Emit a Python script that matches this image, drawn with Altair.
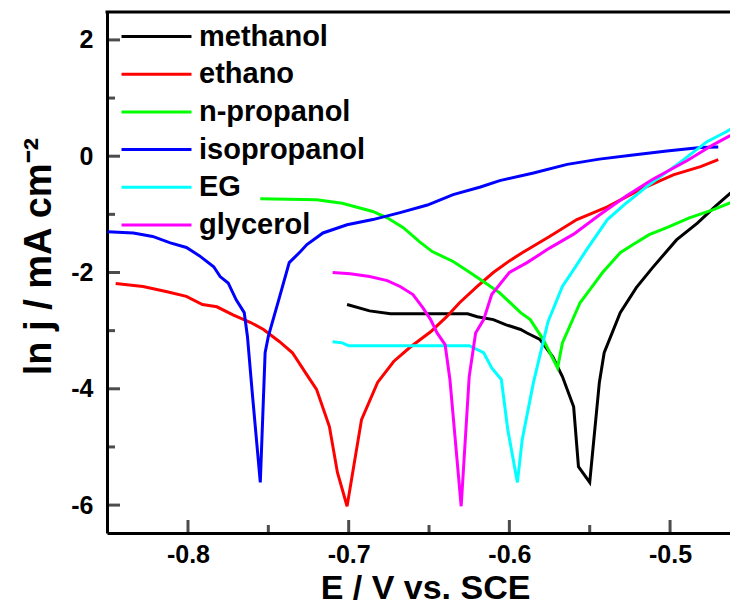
import altair as alt
import pandas as pd

# ---- data ----
series_names = ["methanol", "ethano", "n-propanol", "isopropanol", "EG", "glycerol"]
series_colors = ["#000000", "#ff0000", "#00ff00", "#0000ff", "#00ffff", "#ff00ff"]

methanol_E = [-0.701, -0.687, -0.674, -0.656, -0.626, -0.620, -0.610, -0.602, -0.593, -0.589,
              -0.581, -0.573, -0.567, -0.560, -0.557, -0.550, -0.544, -0.541, -0.531, -0.521,
              -0.511, -0.496, -0.483, -0.471, -0.458]
methanol_lnj = [-2.55, -2.66, -2.71, -2.71, -2.71, -2.76, -2.81, -2.90, -2.98, -3.04,
                -3.15, -3.45, -3.79, -4.31, -5.34, -5.61, -3.89, -3.38, -2.69, -2.26,
                -1.92, -1.44, -1.15, -0.84, -0.53]

ethano_E = [-0.845, -0.828, -0.813, -0.801, -0.791, -0.782, -0.772, -0.761, -0.753, -0.743,
            -0.735, -0.726, -0.720, -0.712, -0.707, -0.701, -0.692, -0.682, -0.672, -0.662,
            -0.649, -0.639, -0.631, -0.620, -0.610, -0.600, -0.592, -0.575, -0.558, -0.539,
            -0.519, -0.498, -0.481, -0.470]
ethano_lnj = [-2.19, -2.24, -2.33, -2.41, -2.55, -2.59, -2.73, -2.86, -2.98, -3.19,
              -3.38, -3.76, -4.01, -4.65, -5.44, -6.02, -4.53, -3.89, -3.53, -3.29,
              -3.02, -2.76, -2.52, -2.24, -2.00, -1.80, -1.66, -1.38, -1.09, -0.87,
              -0.58, -0.32, -0.18, -0.06]

npropanol_E = [-0.755, -0.720, -0.704, -0.685, -0.676, -0.666, -0.656, -0.648, -0.635, -0.625,
               -0.616, -0.606, -0.593, -0.587, -0.579, -0.570, -0.567, -0.556, -0.550, -0.542,
               -0.531, -0.523, -0.513, -0.502, -0.488, -0.473, -0.458]
npropanol_lnj = [-0.73, -0.75, -0.81, -0.95, -1.06, -1.23, -1.47, -1.64, -1.81, -1.99,
                 -2.16, -2.35, -2.69, -2.81, -3.15, -3.64, -3.21, -2.52, -2.30, -2.00,
                 -1.66, -1.52, -1.35, -1.23, -1.06, -0.92, -0.75]

isopropanol_E = [-0.850, -0.834, -0.822, -0.811, -0.801, -0.793, -0.784, -0.780, -0.775, -0.770,
                 -0.765, -0.763, -0.760, -0.755, -0.752, -0.750, -0.743, -0.737, -0.730, -0.726,
                 -0.716, -0.701, -0.685, -0.668, -0.651, -0.635, -0.618, -0.606, -0.585, -0.564,
                 -0.544, -0.523, -0.502, -0.481, -0.470]
isopropanol_lnj = [-1.30, -1.32, -1.38, -1.49, -1.57, -1.71, -1.90, -2.07, -2.18, -2.47,
                   -2.69, -3.10, -4.07, -5.61, -3.38, -3.10, -2.42, -1.83, -1.64, -1.52,
                   -1.32, -1.18, -1.09, -0.97, -0.84, -0.66, -0.53, -0.42, -0.29, -0.14,
                   -0.05, 0.02, 0.09, 0.15, 0.16]

EG_E = [-0.710, -0.704, -0.700, -0.625, -0.616, -0.611, -0.605, -0.601, -0.595, -0.592,
        -0.585, -0.576, -0.567, -0.560, -0.552, -0.539, -0.527, -0.513, -0.494, -0.477,
        -0.465, -0.458]
EG_lnj = [-3.19, -3.21, -3.26, -3.26, -3.38, -3.64, -3.84, -4.70, -5.61, -4.87,
          -3.89, -2.85, -2.24, -1.95, -1.61, -1.09, -0.80, -0.49, -0.11, 0.25,
          0.42, 0.54]

glycerol_E = [-0.710, -0.699, -0.687, -0.676, -0.668, -0.660, -0.654, -0.649, -0.645, -0.640,
              -0.637, -0.630, -0.625, -0.621, -0.616, -0.611, -0.600, -0.589, -0.575, -0.560,
              -0.544, -0.527, -0.511, -0.489, -0.473, -0.458]
glycerol_lnj = [-2.00, -2.02, -2.07, -2.14, -2.24, -2.38, -2.60, -2.81, -3.04, -3.24,
                -3.84, -6.02, -3.79, -3.04, -2.81, -2.38, -2.00, -1.83, -1.58, -1.34,
                -1.01, -0.68, -0.40, -0.07, 0.20, 0.42]

x_major = [-0.8, -0.7, -0.6, -0.5]
x_minor = [-0.75, -0.65, -0.55]
y_major = [-6, -4, -2, 0, 2]
y_minor = [-5, -3, -1, 1]

x_domain = [-0.8504, -0.4627]
y_domain = [-6.48, 2.48]

# ---- build table ----
all_E = [methanol_E, ethano_E, npropanol_E, isopropanol_E, EG_E, glycerol_E]
all_lnj = [methanol_lnj, ethano_lnj, npropanol_lnj, isopropanol_lnj, EG_lnj, glycerol_lnj]
rows = []
for name, xs, ys in zip(series_names, all_E, all_lnj):
    for i, (xv, yv) in enumerate(zip(xs, ys)):
        rows.append({"series": name, "E": xv, "lnj": yv, "i": i})
df = pd.DataFrame(rows)

FONT = "Liberation Sans"
W, H = 623, 521

xscale = alt.Scale(domain=x_domain, nice=False, zero=False)
yscale = alt.Scale(domain=y_domain, nice=False, zero=False)

x_axis = alt.Axis(
    values=x_major,
    labelExpr="datum.value < 0 ? '-' + format(-datum.value, '.1f') : format(datum.value, '.1f')",
    ticks=False, tickSize=0, domain=True, domainColor="black", domainWidth=3, grid=False,
    labelFont=FONT, labelFontSize=25, labelFontWeight="bold", labelColor="black",
    labelPadding=9, labelFlush=False, labelOverlap=False,
    title="E / V vs. SCE", titleFont=FONT, titleFontSize=34, titleFontWeight="bold",
    titleColor="black", titleX=318, titleY=65, titleBaseline="alphabetic", titleAlign="center",
)
y_axis = alt.Axis(
    values=y_major,
    labelExpr="datum.value < 0 ? '-' + format(-datum.value, 'd') : format(datum.value, 'd')",
    ticks=False, tickSize=0, domain=True, domainColor="black", domainWidth=3, grid=False,
    labelFont=FONT, labelFontSize=25, labelFontWeight="bold", labelColor="black",
    labelPadding=14, labelFlush=False, labelOverlap=False,
    title="ln j / mA cm⁻²", titleFont=FONT, titleFontSize=38, titleFontWeight="bold",
    titleColor="black", titleAngle=270, titleX=-57, titleY=244,
    titleBaseline="alphabetic", titleAlign="center",
)

lines = alt.Chart(df).mark_line(strokeWidth=3, clip=True).encode(
    x=alt.X("E:Q", scale=xscale, axis=x_axis),
    y=alt.Y("lnj:Q", scale=yscale, axis=y_axis),
    color=alt.Color(
        "series:N",
        scale=alt.Scale(domain=series_names, range=series_colors),
        sort=series_names,
        legend=alt.Legend(
            title=None, orient="none", legendX=35, legendY=10, padding=0,
            symbolType="M-3,0L3,0", symbolSize=544, symbolStrokeWidth=3,
            labelFont=FONT, labelFontSize=29, labelFontWeight="bold", labelColor="black",
            labelOffset=28, rowPadding=7.7, labelBaseline="middle", labelLimit=0,
        ),
    ),
    order="i:Q",
)

xt_major = alt.Chart(pd.DataFrame({"E": x_major})).mark_tick(
    orient="vertical", size=26, thickness=3, color="black", clip=True
).encode(x=alt.X("E:Q", scale=xscale, axis=x_axis), y=alt.value(H))
xt_minor = alt.Chart(pd.DataFrame({"E": x_minor})).mark_tick(
    orient="vertical", size=16, thickness=3, color="black", clip=True
).encode(x=alt.X("E:Q", scale=xscale, axis=x_axis), y=alt.value(H))
yt_major = alt.Chart(pd.DataFrame({"lnj": y_major})).mark_tick(
    orient="horizontal", size=26, thickness=3, color="black", clip=True
).encode(y=alt.Y("lnj:Q", scale=yscale, axis=y_axis), x=alt.value(0))
yt_minor = alt.Chart(pd.DataFrame({"lnj": y_minor})).mark_tick(
    orient="horizontal", size=16, thickness=3, color="black", clip=True
).encode(y=alt.Y("lnj:Q", scale=yscale, axis=y_axis), x=alt.value(0))

# top frame line (the reference shows no right-hand border inside the picture)
top_frame = alt.Chart(pd.DataFrame({"k": [0]})).mark_rule(
    color="black", strokeWidth=3
).encode(x=alt.value(-1.5), x2=alt.value(W), y=alt.value(0))

chart = alt.layer(lines, xt_major, xt_minor, yt_major, yt_minor, top_frame).properties(
    width=W, height=H,
    autosize=alt.AutoSizeParams(type="none"),
    padding={"left": 99, "top": 4, "right": 0, "bottom": 72},
    background="white",
).configure_view(stroke=None)

chart.save("out.html", embed_options={"renderer": "svg", "actions": False})
